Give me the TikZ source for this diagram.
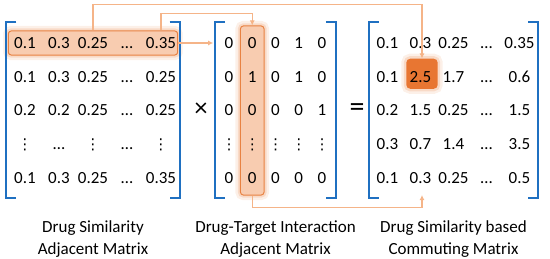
\documentclass[tikz,border=0pt]{standalone}
\usepackage{fontspec}
\setmainfont{Carlito}
\newfontfamily\symfont{DejaVu Sans}
\usepackage{xcolor}
\usetikzlibrary{positioning, fit, backgrounds, matrix, arrows.meta}

\definecolor{bracketblue}{RGB}{31,112,193}
\definecolor{hlfill}{RGB}{248,204,176}
\definecolor{hlborder}{RGB}{232,130,66}
\definecolor{cellorange}{RGB}{232,118,50}
\definecolor{linkorange}{RGB}{245,180,136}

\newcommand{\vd}{{\symfont\fontsize{15}{15}\selectfont ⋮}}

\begin{document}
\begin{tikzpicture}[
    x=1pt, y=-1pt,
    cell/.style={anchor=center, inner sep=0pt, minimum height=33.75pt, text height=11pt, text depth=0pt, font=\fontsize{17}{21}\selectfont},
    mat/.style={matrix of nodes, inner sep=0pt, row sep=0pt, column sep=0pt, nodes={cell}},
    bracket/.style={draw=bracketblue, line width=2pt},
    glow/.style={preaction={draw=hlborder, line width=10pt, opacity=0.12}, preaction={draw=hlborder, line width=5pt, opacity=0.2}},
    hlbox/.style={rectangle, rounded corners=3pt, draw=hlborder, line width=1pt, fill=hlfill, glow},
    hlcell/.style={rectangle, rounded corners=4pt, fill=cellorange, glow},
    op/.style={inner sep=0pt},
    caption/.style={align=center, inner sep=0pt, font=\fontsize{17}{22}\selectfont},
    link/.style={-{Latex[length=5pt,width=5pt]}, draw=linkorange, line width=1.2pt}
]
\useasboundingbox (0,0) rectangle (550,259);

% the three matrices
\matrix (sim) [mat, nodes={minimum width=33pt}, column sep=1pt] at (93,110.5) {
0.1 & 0.3 & 0.25 & … & 0.35 \\
0.1 & 0.3 & 0.25 & … & 0.25 \\
0.2 & 0.2 & 0.25 & … & 0.25 \\
\vd & … & \vd & … & \vd \\
0.1 & 0.3 & 0.25 & … & 0.35 \\
};
\matrix (dti) [mat, nodes={minimum width=23.25pt}] at (275.5,110.5) {
0 & 0 & 0 & 1 & 0 \\
0 & 1 & 0 & 1 & 0 \\
0 & 0 & 0 & 0 & 1 \\
\vd & \vd & \vd & \vd & \vd \\
0 & 0 & 0 & 0 & 0 \\
};
\matrix (com) [mat, nodes={minimum width=33pt}] at (453.5,110.5) {
0.1 & 0.3 & 0.25 & … & 0.35 \\
0.1 & 2.5 & 1.7 & … & 0.6 \\
0.2 & 1.5 & 0.25 & … & 1.5 \\
0.3 & 0.7 & 1.4 & … & 3.5 \\
0.1 & 0.3 & 0.25 & … & 0.5 \\
};

\node[op, font=\fontsize{26}{26}\selectfont] (times) at (201,110) {×};
\node[op, font=\fontsize{30}{30}\selectfont] (equals) at (357,110) {=};

% highlights
\begin{scope}[on background layer]
\node[hlbox, fit=(sim-1-1)(sim-1-5), inner xsep=0pt, inner ysep=-5pt] (rowbox) {};
\node[hlbox, fit=(dti-1-2)(dti-5-2), inner xsep=0pt, inner ysep=0pt] (colbox) {};
\node[hlcell, fit=(com-2-2), inner xsep=-1pt, inner ysep=-2pt, xshift=1.5pt, yshift=3pt] (sumcell) {};
\end{scope}

% brackets
\foreach \m in {sim,dti,com} {
  \draw[bracket] ([xshift=8pt,yshift=4pt]\m.north west) -- ([xshift=-2pt,yshift=4pt]\m.north west)
    -- ([xshift=-2pt,yshift=-3pt]\m.south west) -- ([xshift=8pt,yshift=-3pt]\m.south west);
  \draw[bracket] ([xshift=-8pt,yshift=4pt]\m.north east) -- ([xshift=2pt,yshift=4pt]\m.north east)
    -- ([xshift=2pt,yshift=-3pt]\m.south east) -- ([xshift=-8pt,yshift=-3pt]\m.south east);
}

\draw[link] (rowbox.north) -- ++(0,-26) -| (sumcell.north);
\draw[link] (rowbox.north -| sim-1-5) -- ++(0,-17) -| (colbox.north);
\draw[link, shorten >=4pt] (rowbox.east) -- (rowbox.east -| dti.west);
\draw[link] (colbox.south) -- ++(0,12) -| (sumcell |- com.south);

\node[caption, below=25pt of sim] (simcap) {Drug Similarity\\Adjacent Matrix};
\node[caption, below=25pt of dti] (dticap) {Drug-Target Interaction\\Adjacent Matrix};
\node[caption, below=25pt of com] (comcap) {Drug Similarity based\\Commuting Matrix};
\end{tikzpicture}
\end{document}
